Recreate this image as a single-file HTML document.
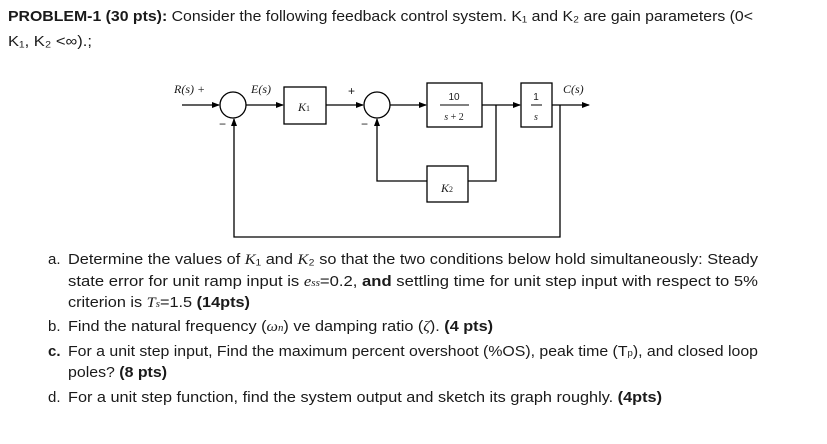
<!DOCTYPE html>
<html><head><meta charset="utf-8"><style>
html,body{margin:0;padding:0;background:#fff;}
svg{display:block;}
text{font-family:"Liberation Sans",sans-serif;fill:#1a1a1a;}
.m{font-family:"Liberation Serif",serif;font-style:italic;}
</style></head><body>
<svg width="827" height="444" viewBox="0 0 827 444" xmlns="http://www.w3.org/2000/svg">
<defs><marker id="a" markerWidth="8" markerHeight="6" refX="7" refY="3" orient="auto" markerUnits="userSpaceOnUse"><path d="M0,0 L8,3 L0,6 z" fill="#000"/></marker></defs>
<g font-size="15">
<text x="8" y="21" textLength="745" lengthAdjust="spacingAndGlyphs"><tspan font-weight="bold">PROBLEM-1 (30 pts):</tspan> Consider the following feedback control system. K₁ and K₂ are gain parameters (0&lt;</text>
<text x="8" y="46" textLength="84" lengthAdjust="spacingAndGlyphs">K₁, K₂ &lt;∞).;</text>

<text x="48" y="264">a.</text>
<text x="68" y="264" textLength="690" lengthAdjust="spacingAndGlyphs">Determine the values of <tspan class="m">K</tspan>₁ and <tspan class="m">K</tspan>₂ so that the two conditions below hold simultaneously: Steady</text>
<text x="68" y="286" textLength="690" lengthAdjust="spacingAndGlyphs">state error for unit ramp input is <tspan class="m">e<tspan font-size="10">ss</tspan></tspan>=0.2, <tspan font-weight="bold">and</tspan> settling time for unit step input with respect to 5%</text>
<text x="68" y="307" textLength="182" lengthAdjust="spacingAndGlyphs">criterion is <tspan class="m">T<tspan font-size="10">s</tspan></tspan>=1.5 <tspan font-weight="bold">(14pts)</tspan></text>
<text x="48" y="331">b.</text>
<text x="68" y="331" textLength="425" lengthAdjust="spacingAndGlyphs">Find the natural frequency (<tspan class="m">ω<tspan font-size="10">n</tspan></tspan>) ve damping ratio (<tspan class="m">ζ</tspan>). <tspan font-weight="bold">(4 pts)</tspan></text>
<text x="48" y="356" font-weight="bold">c.</text>
<text x="68" y="356" textLength="690" lengthAdjust="spacingAndGlyphs">For a unit step input, Find the maximum percent overshoot (%OS), peak time (T<tspan font-size="9">p</tspan>), and closed loop</text>
<text x="68" y="377" textLength="99" lengthAdjust="spacingAndGlyphs">poles? <tspan font-weight="bold">(8 pts)</tspan></text>
<text x="48" y="402">d.</text>
<text x="68" y="402" textLength="594" lengthAdjust="spacingAndGlyphs">For a unit step function, find the system output and sketch its graph roughly. <tspan font-weight="bold">(4pts)</tspan></text>
</g>

<g stroke="#000" stroke-width="1.3" fill="none">
<line x1="182" y1="105" x2="219" y2="105" marker-end="url(#a)"/>
<circle cx="233" cy="105" r="13"/>
<line x1="246" y1="105" x2="283" y2="105" marker-end="url(#a)"/>
<rect x="284" y="87" width="42" height="37" fill="#fff"/>
<line x1="326" y1="105" x2="363" y2="105" marker-end="url(#a)"/>
<circle cx="377" cy="105" r="13"/>
<line x1="390" y1="105" x2="426" y2="105" marker-end="url(#a)"/>
<rect x="427" y="83" width="55" height="44" fill="#fff"/>
<line x1="482" y1="105" x2="520" y2="105" marker-end="url(#a)"/>
<rect x="521" y="83" width="31" height="44" fill="#fff"/>
<line x1="552" y1="105" x2="589" y2="105" marker-end="url(#a)"/>
<polyline points="496,105 496,181 468,181"/>
<rect x="427" y="166" width="41" height="36" fill="#fff"/>
<polyline points="427,181 377,181 377,119" marker-end="url(#a)"/>
<polyline points="560,105 560,237 234,237 234,119" marker-end="url(#a)"/>
<line x1="440" y1="105" x2="469" y2="105" stroke-width="1"/>
<line x1="531" y1="105" x2="542" y2="105" stroke-width="1"/>
</g>
<g font-size="12" fill="#000">
<text x="174" y="93" class="m">R(s) +</text>
<text x="251" y="93" class="m">E(s)</text>
<text x="563" y="93" class="m">C(s)</text>
<text x="298" y="111" class="m">K<tspan font-size="8" font-style="normal">1</tspan></text>
<text x="441" y="192" class="m">K<tspan font-size="8" font-style="normal">2</tspan></text>
<text x="348" y="95" font-size="12">+</text>
<text x="219" y="128" font-size="12">−</text>
<text x="361" y="128" font-size="12">−</text>
<text x="454" y="100" font-size="10" text-anchor="middle">10</text>
<text x="454" y="120" font-size="10" text-anchor="middle" class="m">s <tspan font-style="normal">+ 2</tspan></text>
<text x="536" y="100" font-size="10" text-anchor="middle">1</text>
<text x="536" y="120" font-size="10" text-anchor="middle" class="m">s</text>
</g>
</svg>
</body></html>
